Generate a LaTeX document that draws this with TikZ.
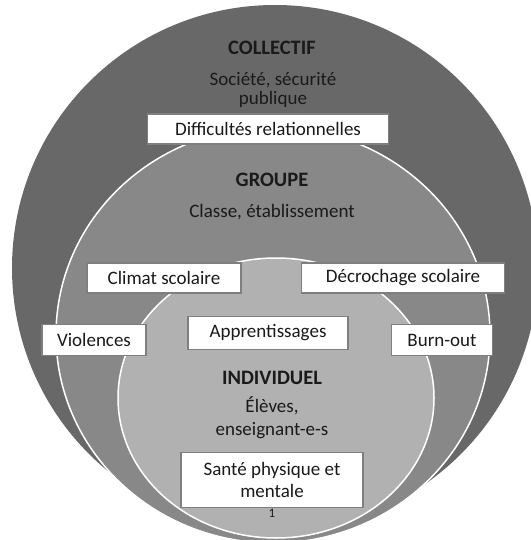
\documentclass[tikz,border=0pt]{standalone}
\usepackage{fontspec}
\setmainfont{Carlito}

\definecolor{collectif}{HTML}{686868}
\definecolor{groupe}{HTML}{888888}
\definecolor{individuel}{HTML}{B1B1B1}
\definecolor{bord}{HTML}{7F7F7F}
\definecolor{encre}{HTML}{1A1A1A}

\tikzset{
  texte/.style={align=center, text=encre, font=\fontsize{19}{22}\selectfont},
  titre/.style={texte, font=\fontsize{20.5}{22}\selectfont\bfseries},
  cadre/.style={texte, draw=bord, line width=1.5pt, fill=white, inner sep=0pt},
}

\begin{document}
\begin{tikzpicture}[x=1pt, y=-1pt]
    % Cadre de l'image
    \useasboundingbox (0,0) rectangle (530,540);

    % Les trois cercles
    \fill[collectif] (275,268) circle (263pt);
    \filldraw[fill=groupe, draw=white, line width=1.5pt] (273,335) ellipse (217pt and 208pt);
    \filldraw[fill=individuel, draw=white, line width=1.5pt] (276,398) ellipse (158pt and 140pt);

    % Niveau collectif
    \node[titre] (collectif) at (272,48) {COLLECTIF};
    \node[texte, font=\fontsize{19}{19}\selectfont] (societe) at (273,90) {Société, sécurité\\publique};
    \node[cadre, minimum width=241pt, minimum height=30pt] (relations) at (268,129) {Difficultés relationnelles};

    % Niveau du groupe
    \node[titre] (groupe) at (272,180) {GROUPE};
    \node[texte] (classe) at (272,212) {Classe, établissement};
    \node[cadre, minimum width=154pt, minimum height=30pt] (climat) at (164,278) {Climat scolaire};
    \node[cadre, minimum width=203pt, minimum height=30pt] (decrochage) at (403,278) {Décrochage scolaire};
    \node[cadre, minimum width=104pt, minimum height=31pt] (violences) at (94,340) {Violences};
    \node[cadre, minimum width=101pt, minimum height=31pt] (burnout) at (442,340) {Burn-out};

    % Niveau individuel
    \node[cadre, minimum width=160pt, minimum height=33pt] (apprentissages) at (268,333) {Apprentissages};
    \node[titre] (individuel) at (272,378) {INDIVIDUEL};
    \node[texte, font=\fontsize{19}{23}\selectfont] (eleves) at (272,418) {Élèves,\\enseignant-e-s};
    \node[cadre, minimum width=182pt, minimum height=55pt] (sante) at (272,480) {Santé physique et\\mentale};
    \node[text=encre, font=\fontsize{13}{15}\selectfont] (note) at (272,513) {1};
\end{tikzpicture}
\end{document}
